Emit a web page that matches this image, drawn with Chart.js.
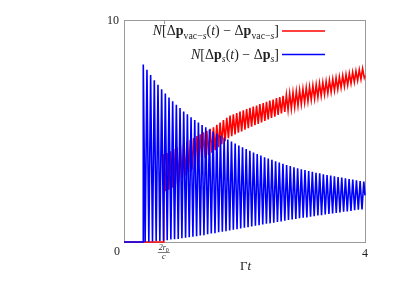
<!DOCTYPE html>
<html>
<head>
<meta charset="utf-8">
<script src="https://cdn.jsdelivr.net/npm/chart.js@4.4.1/dist/chart.umd.min.js"></script>
<style>
  html, body { margin: 0; padding: 0; background: #fff; }
  canvas { display: block; }
</style>
</head>
<body>
<canvas id="grafico" width="415" height="295"></canvas>
<script>
// eixo x: Gamma t, eixo y: 0..10
var xMin = 0, xMax = 4, yMin = 0, yMax = 10;
var tickR0 = 0.66; // posição de 2 r0 / c

// curva azul: N[dp_s(t) - dp_s]  (picos e vales)
var blueStart = [[0, 0], [0.319, 0]];
var bluePeakT = [0.320, 0.381, 0.442, 0.503, 0.564, 0.625, 0.686, 0.747, 0.808, 0.869, 0.930, 0.991, 1.052, 1.113, 1.174, 1.235, 1.296, 1.357, 1.418, 1.479, 1.540, 1.601, 1.662, 1.723, 1.784, 1.845, 1.906, 1.967, 2.028, 2.089, 2.150, 2.211, 2.272, 2.333, 2.394, 2.455, 2.516, 2.577, 2.638, 2.699, 2.760, 2.821, 2.882, 2.943, 3.004, 3.065, 3.126, 3.187, 3.248, 3.309, 3.370, 3.431, 3.492, 3.553, 3.614, 3.675, 3.736, 3.797, 3.858, 3.919, 3.980];
var bluePeakY = [8.00, 7.76, 7.52, 7.29, 7.08, 6.88, 6.69, 6.51, 6.34, 6.18, 6.03, 5.88, 5.75, 5.62, 5.50, 5.38, 5.27, 5.17, 5.07, 4.98, 4.89, 4.80, 4.71, 4.62, 4.53, 4.44, 4.35, 4.27, 4.19, 4.11, 4.03, 3.96, 3.89, 3.82, 3.76, 3.70, 3.64, 3.58, 3.52, 3.47, 3.42, 3.37, 3.32, 3.28, 3.24, 3.20, 3.16, 3.12, 3.09, 3.05, 3.02, 2.99, 2.96, 2.93, 2.90, 2.87, 2.84, 2.81, 2.78, 2.75, 2.72];
var blueTroughT = [0.351, 0.412, 0.473, 0.534, 0.595, 0.656, 0.717, 0.778, 0.839, 0.900, 0.961, 1.022, 1.083, 1.144, 1.205, 1.266, 1.327, 1.388, 1.449, 1.510, 1.571, 1.632, 1.693, 1.754, 1.815, 1.876, 1.937, 1.998, 2.059, 2.120, 2.181, 2.242, 2.303, 2.364, 2.425, 2.486, 2.547, 2.608, 2.669, 2.730, 2.791, 2.852, 2.913, 2.974, 3.035, 3.096, 3.157, 3.218, 3.279, 3.340, 3.401, 3.462, 3.523, 3.584, 3.645, 3.706, 3.767, 3.828, 3.889, 3.950];
var blueTroughY = [0.00, 0.01, 0.02, 0.04, 0.05, 0.06, 0.08, 0.11, 0.12, 0.14, 0.17, 0.19, 0.21, 0.24, 0.26, 0.29, 0.31, 0.35, 0.38, 0.40, 0.44, 0.46, 0.49, 0.52, 0.55, 0.58, 0.61, 0.64, 0.67, 0.70, 0.73, 0.76, 0.79, 0.82, 0.84, 0.87, 0.90, 0.93, 0.96, 0.99, 1.02, 1.04, 1.07, 1.09, 1.11, 1.14, 1.16, 1.19, 1.21, 1.24, 1.26, 1.28, 1.31, 1.33, 1.36, 1.38, 1.40, 1.43, 1.45, 1.47];
var blueEnd = [[4.0, 2.1]];

// curva vermelha: N[dp_vac-s(t) - dp_vac-s]
var redStart = [[0, 0], [0.659, 0]];
var redPeakT = [0.660, 0.715, 0.770, 0.825, 0.880, 0.935, 0.990, 1.045, 1.100, 1.155, 1.210, 1.265, 1.320, 1.375, 1.430, 1.485, 1.540, 1.595, 1.650, 1.705, 1.760, 1.815, 1.870, 1.925, 1.980, 2.035, 2.090, 2.145, 2.200, 2.255, 2.310, 2.365, 2.420, 2.475, 2.530, 2.585, 2.640, 2.695, 2.750, 2.805, 2.860, 2.915, 2.970, 3.025, 3.080, 3.135, 3.190, 3.245, 3.300, 3.355, 3.410, 3.465, 3.520, 3.575, 3.630, 3.685, 3.740, 3.795, 3.850, 3.905, 3.960];
var redPeakY = [3.95, 4.01, 4.09, 4.19, 4.27, 4.35, 4.43, 4.52, 4.60, 4.68, 4.77, 4.85, 4.94, 5.01, 5.10, 5.17, 5.28, 5.38, 5.49, 5.59, 5.69, 5.75, 5.81, 5.87, 5.93, 5.99, 6.04, 6.10, 6.15, 6.21, 6.26, 6.31, 6.37, 6.42, 6.48, 6.53, 6.58, 6.63, 6.69, 6.74, 6.79, 6.84, 6.89, 6.95, 6.99, 7.05, 7.09, 7.15, 7.19, 7.24, 7.29, 7.34, 7.39, 7.44, 7.50, 7.55, 7.60, 7.65, 7.70, 7.76, 7.81];
var redTroughT = [0.688, 0.743, 0.798, 0.853, 0.908, 0.963, 1.018, 1.073, 1.128, 1.183, 1.238, 1.293, 1.348, 1.403, 1.458, 1.513, 1.568, 1.623, 1.678, 1.733, 1.788, 1.843, 1.898, 1.953, 2.008, 2.063, 2.118, 2.173, 2.228, 2.283, 2.338, 2.393, 2.448, 2.503, 2.558, 2.613, 2.668, 2.723, 2.778, 2.833, 2.888, 2.943, 2.998, 3.053, 3.108, 3.163, 3.218, 3.273, 3.328, 3.383, 3.438, 3.493, 3.548, 3.603, 3.658, 3.713, 3.768, 3.823, 3.878, 3.933, 3.988];
var redTroughY = [2.29, 2.35, 2.45, 2.59, 2.72, 2.86, 3.00, 3.14, 3.27, 3.41, 3.55, 3.69, 3.79, 3.91, 4.02, 4.13, 4.27, 4.41, 4.54, 4.68, 4.77, 4.84, 4.92, 4.98, 5.06, 5.13, 5.19, 5.26, 5.32, 5.39, 5.45, 5.52, 5.59, 5.65, 5.72, 5.79, 5.86, 5.94, 6.00, 6.07, 6.14, 6.21, 6.28, 6.33, 6.40, 6.45, 6.52, 6.58, 6.64, 6.70, 6.76, 6.82, 6.88, 6.95, 7.01, 7.07, 7.14, 7.20, 7.27, 7.33, 7.40];
var redEnd = [[4.0, 7.5]];

// junta picos e vales numa lista de pontos {x, y}
function montarSerie(inicio, picoT, picoY, valeT, valeY, fim) {
    var pts = inicio.map(p => ({ x: p[0], y: p[1] }));
    for (var i = 0; i < picoT.length; i++) {
        pts.push({ x: picoT[i], y: picoY[i] });
        if (i < valeT.length) pts.push({ x: valeT[i], y: valeY[i] });
    }
    fim.forEach(p => pts.push({ x: p[0], y: p[1] }));
    return pts;
}

var serif = '"Liberation Serif", "DejaVu Serif", serif';

// desenha texto com partes em itálico / negrito / subscrito
function fontePara(p, size) {
    var s = p.sub ? size * 0.7 : size;
    return (p.i ? 'italic ' : '') + (p.b ? 'bold ' : '') + s + 'px ' + serif;
}
function textoRico(ctx, partes, xDir, y, size) {
    var w = 0;
    partes.forEach(p => { ctx.font = fontePara(p, size); w += ctx.measureText(p.t).width; });
    var x = xDir - w;
    partes.forEach(p => {
        ctx.font = fontePara(p, size);
        ctx.fillText(p.t, x, y + (p.sub ? size * 0.28 : 0));
        x += ctx.measureText(p.t).width;
    });
}

var legendaVermelha = [
    { t: 'N', i: true }, { t: '[Δ' }, { t: 'p', b: true }, { t: 'vac−', sub: true }, { t: 's', sub: true, i: true },
    { t: '(' }, { t: 't', i: true }, { t: ') − Δ' }, { t: 'p', b: true }, { t: 'vac−', sub: true }, { t: 's', sub: true, i: true }, { t: ']' }
];
var legendaAzul = [
    { t: 'N', i: true }, { t: '[Δ' }, { t: 'p', b: true }, { t: 's', sub: true, i: true },
    { t: '(' }, { t: 't', i: true }, { t: ') − Δ' }, { t: 'p', b: true }, { t: 's', sub: true, i: true }, { t: ']' }
];

var moldura = {
    id: 'moldura',
    beforeDatasetsDraw: function (chart) {
        var a = chart.chartArea, ctx = chart.ctx;
        ctx.save();
        ctx.strokeStyle = '#9a9a9a';
        ctx.lineWidth = 1;
        ctx.strokeRect(a.left + 0.5, a.top + 0.5, a.right - a.left, a.bottom - a.top);
        // marca do 2r0/c (topo)
        var xr = Math.round(chart.scales.x.getPixelForValue(tickR0)) + 0.5;
        ctx.beginPath();
        ctx.moveTo(xr, a.top); ctx.lineTo(xr, a.top + 4);
        ctx.stroke();
        ctx.restore();
    },
    afterDraw: function (chart) {
        var a = chart.chartArea, ctx = chart.ctx;
        var sx = chart.scales.x, sy = chart.scales.y;
        ctx.save();
        ctx.fillStyle = '#222';
        ctx.textBaseline = 'middle';

        // rótulos dos eixos
        ctx.font = '12px ' + serif;
        ctx.textAlign = 'right';
        ctx.fillText('10', a.left - 5, sy.getPixelForValue(yMax) + 1);
        ctx.textAlign = 'center';
        ctx.fillText('0', sx.getPixelForValue(xMin) - 7, a.bottom + 10);
        ctx.fillText('4', sx.getPixelForValue(xMax), a.bottom + 12);

        // fração 2r0/c
        var xr = sx.getPixelForValue(tickR0);
        ctx.font = 'italic 8px ' + serif;
        ctx.textAlign = 'right';
        ctx.fillText('2r', xr + 2, a.bottom + 6);
        ctx.font = '6px ' + serif;
        ctx.textAlign = 'left';
        ctx.fillText('0', xr + 2, a.bottom + 8);
        ctx.font = 'italic 8px ' + serif;
        ctx.textAlign = 'center';
        ctx.fillText('c', xr, a.bottom + 15);
        ctx.fillRect(xr - 6, a.bottom + 10, 12, 0.6);

        // título do eixo x
        ctx.font = '13px ' + serif;
        ctx.textAlign = 'right';
        ctx.fillText('Γ', (a.left + a.right) / 2 + 3, a.bottom + 25);
        ctx.font = 'italic 13px ' + serif;
        ctx.textAlign = 'left';
        ctx.fillText('t', (a.left + a.right) / 2 + 3, a.bottom + 25);

        // legenda
        ctx.textAlign = 'left';
        ctx.textBaseline = 'alphabetic';
        textoRico(ctx, legendaVermelha, 279, 35, 14);
        textoRico(ctx, legendaAzul, 279, 58.5, 14);
        ctx.lineWidth = 1.5;
        ctx.strokeStyle = '#ff0000';
        ctx.beginPath(); ctx.moveTo(282, 31); ctx.lineTo(325, 31); ctx.stroke();
        ctx.strokeStyle = '#0000ff';
        ctx.beginPath(); ctx.moveTo(282, 54.5); ctx.lineTo(325, 54.5); ctx.stroke();
        ctx.restore();
    }
};

var ctx = document.getElementById('grafico').getContext('2d');
var grafico = new Chart(ctx, {
    type: 'line',
    data: {
        datasets: [{
            label: 'N[Δp_vac-s(t) - Δp_vac-s]',
            data: montarSerie(redStart, redPeakT, redPeakY, redTroughT, redTroughY, redEnd),
            borderColor: '#ff0000',
            borderWidth: 1.6,
            pointRadius: 0,
            tension: 0,
            order: 1,
            clip: false
        }, {
            label: 'N[Δp_s(t) - Δp_s]',
            data: montarSerie(blueStart, bluePeakT, bluePeakY, blueTroughT, blueTroughY, blueEnd),
            borderColor: '#0000ff',
            borderWidth: 1.6,
            pointRadius: 0,
            tension: 0,
            order: 0,
            clip: false
        }]
    },
    options: {
        responsive: false,
        animation: false,
        devicePixelRatio: 1,
        layout: { padding: { left: 124, right: 50, top: 20, bottom: 53 } },
        scales: {
            x: { type: 'linear', min: xMin, max: xMax, display: false },
            y: { type: 'linear', min: yMin, max: yMax, display: false }
        },
        plugins: {
            legend: { display: false },
            tooltip: { enabled: false }
        }
    },
    plugins: [moldura]
});
</script>
</body>
</html>
